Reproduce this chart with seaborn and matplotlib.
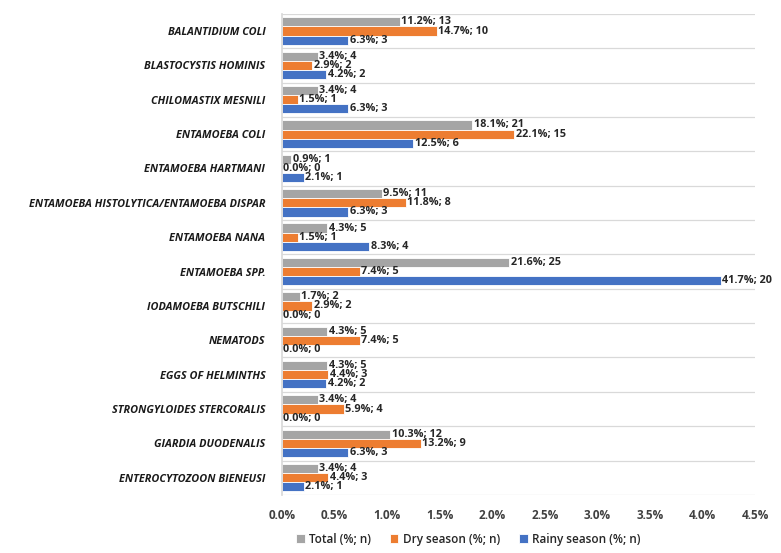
import pandas as pd
import numpy as np
import matplotlib.pyplot as plt
import seaborn as sns

# data
species = [
    "Balantidium coli",
    "Blastocystis hominis",
    "Chilomastix mesnili",
    "Entamoeba coli",
    "Entamoeba hartmani",
    "Entamoeba histolytica/Entamoeba dispar",
    "Entamoeba nana",
    "Entamoeba spp.",
    "Iodamoeba butschili",
    "Nematods",
    "Eggs of helminths",
    "Strongyloides stercoralis",
    "Giardia duodenalis",
    "Enterocytozoon bieneusi",
]
series = ["Total (%; n)", "Dry season (%; n)", "Rainy season (%; n)"]

total_pct = [11.2, 3.4, 3.4, 18.1, 0.9, 9.5, 4.3, 21.6, 1.7, 4.3, 4.3, 3.4, 10.3, 3.4]
total_n = [13, 4, 4, 21, 1, 11, 5, 25, 2, 5, 5, 4, 12, 4]
dry_pct = [14.7, 2.9, 1.5, 22.1, 0.0, 11.8, 1.5, 7.4, 2.9, 7.4, 4.4, 5.9, 13.2, 4.4]
dry_n = [10, 2, 1, 15, 0, 8, 1, 5, 2, 5, 3, 4, 9, 3]
rainy_pct = [6.3, 4.2, 6.3, 12.5, 2.1, 6.3, 8.3, 41.7, 0.0, 0.0, 4.2, 0.0, 6.3, 2.1]
rainy_n = [3, 2, 3, 6, 1, 3, 4, 20, 0, 0, 2, 0, 3, 1]

colors = ["#A5A5A5", "#ED7D31", "#4472C4"]

rows = []
for s, pcts, ns in zip(series, [total_pct, dry_pct, rainy_pct], [total_n, dry_n, rainy_n]):
    for sp, p, n in zip(species, pcts, ns):
        sep = ", " if (sp == "Giardia duodenalis" and s.startswith("Rainy")) else "; "
        rows.append({"species": sp, "series": s, "pct": p, "n": n,
                     "label": f"{p:.1f}%{sep}{n}"})
df = pd.DataFrame(rows)
# the original chart's axis runs 0-4.5% while the labels read 0-41.7%
df["axis_val"] = df["pct"] / 10

sns.set_theme(style="white")
plt.rcParams["font.family"] = ["Open Sans", "DejaVu Sans"]

fig = plt.figure(figsize=(7.81, 5.53), dpi=100)
ax = fig.add_axes([0.361, 0.105, 0.606, 0.870])

sns.barplot(data=df, y="species", x="axis_val", hue="series", order=species,
            hue_order=series, palette=colors, saturation=1, orient="h", width=0.8,
            ax=ax, legend=True, edgecolor="white", linewidth=0.6)

# data labels at bar ends
for container, s in zip(ax.containers, series):
    labels = df[df["series"] == s].set_index("species").loc[species, "label"].tolist()
    ax.bar_label(container, labels=labels, padding=1, fontsize=7.8,
                 fontweight="bold", color="#262626")

ax.set_xlim(0, 4.5)
ticks = np.arange(0, 4.51, 0.5)
ax.set_xticks(ticks)
ax.set_xticklabels([f"{t:.1f}%" for t in ticks],
                   fontsize=8.5, fontweight="bold", color="#404040")
ax.set_ylim(len(species) - 0.5, -0.5)
ax.set_yticks(range(len(species)))
ax.set_yticklabels([s.upper() for s in species], fontsize=7.8, fontweight="bold",
                   fontstyle="italic", color="#1a1a1a")
ax.tick_params(axis="y", length=0, pad=12)
ax.tick_params(axis="x", length=0, pad=10)
ax.set_xlabel("")
ax.set_ylabel("")

# category separators
for i in range(len(species) + 1):
    ax.axhline(i - 0.5, color="#D9D9D9", linewidth=0.9, zorder=0)

for side in ["top", "right", "bottom"]:
    ax.spines[side].set_visible(False)
ax.spines["left"].set_color("#D9D9D9")

handles, labs = ax.get_legend_handles_labels()
ax.legend_.remove()
leg = fig.legend(handles, labs, loc="center", bbox_to_anchor=(0.6, 0.025), ncol=3,
                 frameon=False, fontsize=8.5, handlelength=0.7, handleheight=0.7,
                 columnspacing=1.6, handletextpad=0.4)
for t in leg.get_texts():
    t.set_color("#262626")
    t.set_fontweight("semibold")

fig.savefig("out.png", dpi=100)
